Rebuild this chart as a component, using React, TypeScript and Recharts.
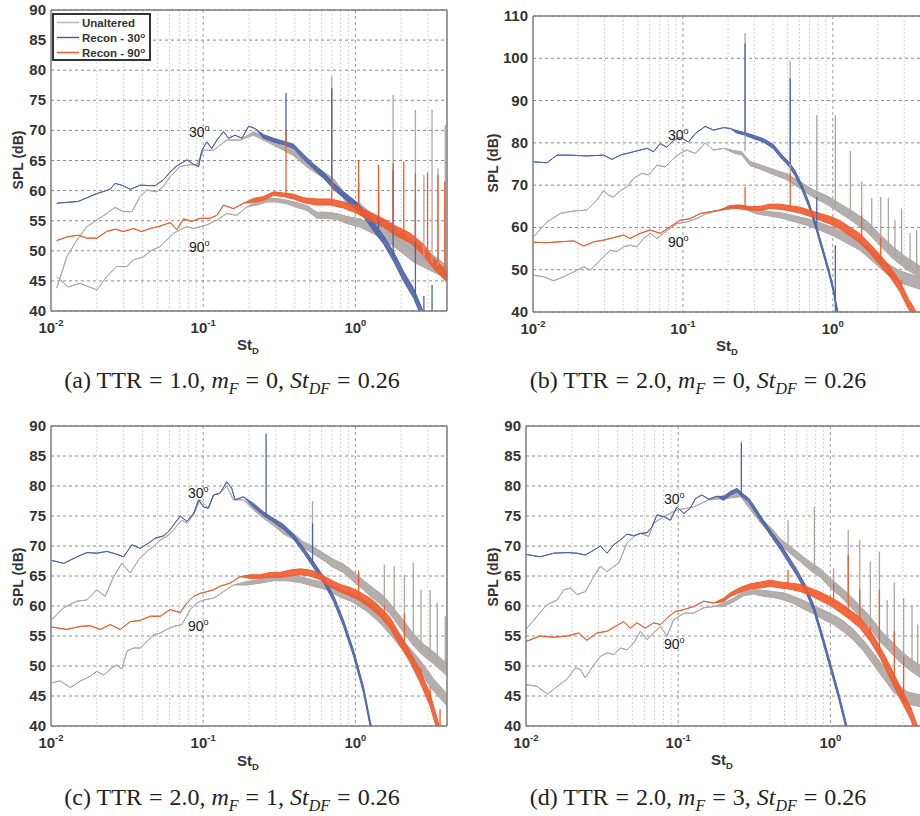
import React from "react";
import {
  ComposedChart,
  Area,
  Line,
  XAxis,
  YAxis,
  CartesianGrid,
  ReferenceLine,
} from "recharts";

// [St_D, SPL dB, half-width of the noisy band]
type Pt = [number, number, number?];
// [St_D, base dB, peak dB]
type Spike = [number, number, number];

const X_TICKS = [0.01, 0.1, 1];
const X_MAJOR = [0.1, 1];
const X_MINOR = [0.02, 0.03, 0.04, 0.05, 0.06, 0.07, 0.08, 0.09, 0.2, 0.3, 0.4, 0.5, 0.6, 0.7, 0.8, 0.9, 2, 3, 4];
const Y_TICKS_90 = [40, 45, 50, 55, 60, 65, 70, 75, 80, 85, 90];
const Y_TICKS_110 = [40, 50, 60, 70, 80, 90, 100, 110];

// ---- (a) TTR = 1.0, mF = 0
const a_unalt30: Pt[] = [[0.0109,43.8],[0.0127,49.0],[0.0148,51.8],[0.0172,54.0],[0.02,55.1],[0.0232,56.2],[0.0264,57.2],[0.0299,56.5],[0.034,56.5],[0.0385,59.0],[0.0426,60.1],[0.0496,59.8],[0.0548,60.7],[0.0607,62.3],[0.0706,64.0],[0.0821,64.3],[0.0908,64.3],[0.1005,66.7],[0.117,66.7],[0.143,68.4],[0.175,68.4],[0.214,69.5,0.3],[0.262,68.4,0.3],[0.321,67.3,0.3],[0.393,66.2,0.4],[0.481,64.3,0.4],[0.589,62.9,0.5],[0.72,61.5,0.5],[0.881,58.4,0.6],[1.079,57.1,0.7],[1.32,55.1,0.7],[1.615,54.0,0.8],[1.977,52.3,0.8],[2.42,50.7,0.9],[2.96,49.0,0.9],[3.44,47.9,0.9],[4.0,46.5,0.9]];
const a_unalt90: Pt[] = [[0.0109,45.7],[0.013,44.0],[0.0155,44.6],[0.02,43.5],[0.0232,45.7],[0.027,47.4],[0.0315,47.4],[0.0348,48.5],[0.0405,49.0],[0.0459,50.1],[0.0521,50.7],[0.0577,51.8],[0.0638,52.9],[0.0706,53.5],[0.0781,54.0],[0.0864,53.7],[0.0955,54.0],[0.1057,54.3],[0.123,55.1],[0.143,56.2],[0.166,55.9],[0.194,57.3],[0.225,57.9,0.3],[0.262,58.4,0.3],[0.305,58.4,0.3],[0.355,58.1,0.3],[0.413,57.6,0.4],[0.481,57.1,0.4],[0.56,55.9,0.5],[0.651,55.9,0.5],[0.757,55.7,0.5],[0.881,55.1,0.6],[1.079,54.6,0.7],[1.32,53.5,0.7],[1.615,52.3,0.8],[1.977,50.7,0.8],[2.42,49.0,0.9],[2.96,47.9,0.9],[3.62,46.8,0.9],[4.0,45.7,0.9]];
const a_recon30: Pt[] = [[0.0109,57.9],[0.0151,58.2],[0.02,59.5],[0.0244,60.2],[0.0264,61.2],[0.0299,60.8],[0.0331,60.2],[0.0385,60.9],[0.0483,60.8],[0.0548,61.8],[0.0607,63.1],[0.0671,64.1],[0.0781,65.1],[0.0864,64.4],[0.0932,64.0],[0.098,66.7],[0.1057,68.1],[0.114,67.0],[0.123,68.4],[0.136,69.8],[0.147,68.7],[0.162,69.2],[0.18,68.7],[0.199,70.7],[0.22,70.3],[0.249,69.0,0.3],[0.29,68.4,0.3],[0.338,67.9,0.3],[0.393,67.3,0.4],[0.457,65.6,0.4],[0.532,64.0,0.4],[0.617,62.6,0.5],[0.719,60.7,0.5],[0.837,59.3,0.5],[0.975,57.9,0.6],[1.135,56.2,0.6],[1.32,54.0,0.7],[1.535,51.8,0.7],[1.787,49.0,0.8],[2.08,45.7,0.8],[2.42,42.9,0.8],[2.68,40.2,0.8],[2.9,38,0.8]];
const a_recon90: Pt[] = [[0.0109,51.7],[0.0127,52.3],[0.0151,52.6],[0.0172,52.1],[0.02,52.1],[0.0232,53.2],[0.0264,53.6],[0.0299,53.2],[0.0348,53.7],[0.0395,53.2],[0.0448,53.7],[0.0521,54.1],[0.0607,54.7],[0.0671,53.5],[0.0742,55.3],[0.0842,54.9],[0.0955,55.4],[0.111,55.4],[0.123,55.9],[0.136,57.6],[0.158,57.0],[0.184,57.9],[0.214,58.4,0.3],[0.249,58.7,0.3],[0.29,59.5,0.3],[0.338,59.3,0.3],[0.393,59.0,0.4],[0.457,58.4,0.4],[0.56,58.1,0.5],[0.685,58.1,0.5],[0.837,57.6,0.5],[1.025,56.8,0.6],[1.255,55.7,0.7],[1.535,54.6,0.7],[1.88,53.2,0.8],[2.3,52.1,0.8],[2.82,50.1,0.9],[3.27,47.9,0.9],[4.0,45.7,0.9]];
const a_spkGray: Spike[] = [[0.7,61.5,79.0],[1.77,53,75.9],[2.48,50,73.4],[2.82,49,62.6],[3.19,48,73.4],[3.49,47.5,63.7],[3.9,46.5,70.9]];
const a_spkBlue: Spike[] = [[0.35,67.5,76.2],[0.7,61,77.0],[1.05,57,61.2],[1.42,53,59.8],[1.77,49,63.4],[2.48,42,58.4],[2.82,38,42.5],[3.19,38,44.3]];
const a_spkRed: Spike[] = [[0.35,59.3,69.8],[0.7,58,61.8],[1.05,56.8,65.1],[1.42,55,64.3],[1.77,53.5,64.5],[2.08,52.5,64.8],[2.48,51.5,62.9],[2.98,49.5,63.0],[3.49,48,62.6],[3.87,46,61.5]];

// ---- (b) TTR = 2.0, mF = 0
const b_unalt30: Pt[] = [[0.0101,57.8],[0.0124,61.3],[0.0152,63.3],[0.0187,63.9],[0.0229,64.1],[0.0267,66.5],[0.0296,68.8],[0.0319,67.6],[0.0345,67.2],[0.0382,68.7],[0.0424,69.6],[0.0469,71.6],[0.0533,72.8],[0.059,72.4],[0.067,74.7],[0.0762,74.3],[0.0866,76.3],[0.096,77.5],[0.106,78.3],[0.121,77.5],[0.141,80.0],[0.16,78.3],[0.187,78.7],[0.218,77.9,0.3],[0.247,77.5,0.4],[0.281,75.1,0.5],[0.328,74.3,0.5],[0.402,73.1,0.6],[0.493,72.0,0.7],[0.605,70.0,0.8],[0.743,68.0,0.9],[0.912,66.5,1.0],[1.12,64.5,1.1],[1.374,62.5,1.2],[1.69,60.2,1.3],[2.07,57.0,1.3],[2.54,53.9,1.4],[3.11,51.5,1.4],[3.82,49.5,1.4]];
const b_unalt90: Pt[] = [[0.0101,48.7],[0.0118,48.3],[0.0137,47.4],[0.016,48.3],[0.0187,49.5],[0.0218,50.7],[0.0241,49.9],[0.0267,51.5],[0.0296,53.1],[0.0328,54.6],[0.0363,54.3],[0.0402,55.4],[0.0445,55.8],[0.0493,55.4],[0.0547,57.4],[0.0606,58.6],[0.067,57.4],[0.0743,58.6],[0.0824,59.8],[0.0912,60.9],[0.106,61.3],[0.124,62.1],[0.144,63.3],[0.169,63.9],[0.196,64.5,0.3],[0.229,64.9,0.4],[0.267,64.5,0.4],[0.311,63.7,0.5],[0.363,63.3,0.5],[0.445,62.9,0.6],[0.547,62.1,0.7],[0.671,61.3,0.8],[0.824,60.2,0.9],[1.01,59.0,1.0],[1.24,57.4,1.1],[1.52,55.8,1.2],[1.87,53.1,1.3],[2.29,50.3,1.3],[2.81,48.3,1.4],[3.82,46.8,1.4]];
const b_recon30: Pt[] = [[0.0101,75.5],[0.0124,75.3],[0.01445,77.1],[0.0177,77.1],[0.0229,76.9],[0.0296,77.1],[0.0336,76.1],[0.0382,77.1],[0.0469,77.9],[0.0575,78.7],[0.0637,77.9],[0.0706,79.8],[0.0782,79.0],[0.0866,80.6],[0.096,81.3],[0.109,80.2],[0.121,82.2],[0.141,83.9],[0.16,83.0],[0.187,83.6],[0.207,83.4],[0.229,82.6,0.3],[0.254,82.2,0.3],[0.296,81.4,0.4],[0.345,80.6,0.4],[0.402,79.1,0.5],[0.457,76.7,0.5],[0.506,75.1,0.5],[0.561,72.8,0.6],[0.621,69.6,0.6],[0.688,65.7,0.6],[0.763,60.9,0.6],[0.845,55.4,0.6],[0.936,49.9,0.6],[1.01,45.2,0.6],[1.074,40,0.6],[1.12,37,0.6]];
const b_recon90: Pt[] = [[0.0101,56.5],[0.0124,56.4],[0.0152,56.6],[0.0187,56.8],[0.0218,55.6],[0.0254,56.6],[0.0296,57.0],[0.0345,57.6],[0.0402,58.2],[0.0445,57.4],[0.052,58.6],[0.0606,59.4],[0.0706,58.6],[0.0824,60.2],[0.096,61.7],[0.112,62.1],[0.131,63.3],[0.152,63.7],[0.177,64.1],[0.207,64.9,0.3],[0.241,64.9,0.4],[0.281,64.5,0.4],[0.328,64.5,0.5],[0.382,65.0,0.5],[0.445,64.9,0.6],[0.52,64.5,0.6],[0.605,64.1,0.7],[0.706,63.3,0.7],[0.824,62.5,0.8],[0.959,61.7,0.9],[1.12,60.6,1.0],[1.31,59.0,1.0],[1.52,57.4,1.1],[1.77,55.0,1.1],[2.07,52.3,1.2],[2.41,49.5,1.2],[2.81,46.0,1.2],[3.19,42.0,1.2],[3.45,40,1.2],[3.7,38,1.2]];
const b_spkGray: Spike[] = [[0.26,78,106],[0.52,72.5,99.3],[0.782,67.5,86.5],[1.04,64.5,86.5],[1.31,62.5,78.1],[1.56,60,70.8],[1.82,58,66.9],[2.09,56.5,67.2],[2.35,54.5,67.0],[2.6,53,61.7],[2.88,51.5,64.5],[3.28,50.5,58.6],[3.63,49.5,59.4]];
const b_spkBlue: Spike[] = [[0.26,82,103.5],[0.52,75,95.2],[0.782,60,67.2],[1.04,40,55.8]];
const b_spkRed: Spike[] = [[0.26,65,69.6],[0.52,64.3,72.8],[1.56,57,62.9],[2.09,52,57.5],[2.88,45.5,47.6]];

// ---- (c) TTR = 2.0, mF = 1
const c_unalt30: Pt[] = [[0.0101,57.7],[0.0121,59.7],[0.0148,60.8],[0.0172,61.0],[0.02,62.7],[0.0227,61.6],[0.0258,64.9],[0.0292,67.1],[0.0332,65.5],[0.0376,67.7],[0.0427,69.1],[0.0472,69.9],[0.0522,71.0],[0.0577,71.6],[0.0639,72.7],[0.0724,74.3],[0.0781,73.8],[0.0865,75.2],[0.0955,77.7],[0.108,76.3],[0.117,78.5],[0.129,78.8],[0.143,80.0],[0.158,77.7],[0.184,77.7],[0.214,76.3,0.3],[0.249,74.9,0.3],[0.29,73.8,0.4],[0.337,72.4,0.4],[0.392,71.6,0.5],[0.456,70.2,0.5],[0.53,69.3,0.6],[0.617,68.2,0.6],[0.718,67.1,0.7],[0.834,66.3,0.7],[0.971,64.9,0.8],[1.13,63.5,0.8],[1.31,62.1,0.9],[1.53,60.8,0.9],[1.78,58.8,0.9],[2.07,56.6,1.0],[2.4,54.4,1.0],[2.79,52.7,1.0],[3.25,51.4,1.0],[3.98,49.4,1.0]];
const c_unalt90: Pt[] = [[0.0101,47.2],[0.0115,47.5],[0.0134,46.4],[0.0156,47.5],[0.0181,48.3],[0.02,49.1],[0.0222,48.5],[0.0251,49.7],[0.0271,50.2],[0.0292,49.5],[0.0316,52.5],[0.0349,53.0],[0.0386,53.0],[0.0427,54.1],[0.0472,55.2],[0.0522,55.5],[0.0577,56.1],[0.0639,56.6],[0.0724,56.9],[0.0822,59.4],[0.0908,60.5],[0.1004,61.0],[0.117,61.3],[0.136,62.4],[0.158,63.5],[0.194,63.8,0.3],[0.237,64.1,0.3],[0.29,64.6,0.4],[0.354,64.6,0.4],[0.434,64.4,0.5],[0.53,63.8,0.5],[0.648,63.3,0.6],[0.793,62.1,0.6],[0.971,61.3,0.7],[1.19,59.9,0.8],[1.45,58.0,0.8],[1.78,55.5,0.9],[2.17,52.7,0.9],[2.66,50.0,1.0],[3.25,46.9,1.0],[3.98,44.4,1.0]];
const c_recon30: Pt[] = [[0.0101,67.6],[0.0121,67.1],[0.0148,68.2],[0.0172,68.9],[0.02,68.8],[0.0233,69.1],[0.0264,68.7],[0.03,68.2],[0.034,70.2],[0.0386,69.6],[0.0438,70.5],[0.0484,71.3],[0.055,71.7],[0.0592,72.4],[0.0639,73.5],[0.0706,75.0],[0.0781,74.1],[0.0865,75.4],[0.0932,77.7],[0.1004,76.5],[0.108,76.3],[0.117,78.5],[0.129,78.8],[0.143,80.7],[0.154,79.6],[0.162,77.7],[0.184,78.2],[0.214,76.8,0.3],[0.249,75.4,0.3],[0.29,74.3,0.3],[0.337,73.2,0.4],[0.392,71.6,0.4],[0.456,69.3,0.4],[0.53,66.9,0.5],[0.617,64.4,0.5],[0.718,61.3,0.5],[0.834,57.2,0.5],[0.971,52.2,0.5],[1.13,46.1,0.5],[1.26,40,0.5],[1.32,38,0.5]];
const c_recon90: Pt[] = [[0.0101,56.5],[0.0127,56.1],[0.0156,56.6],[0.0181,56.7],[0.0211,56.1],[0.0245,56.9],[0.0285,56.1],[0.0332,57.4],[0.0386,57.6],[0.0449,58.3],[0.0522,58.3],[0.0607,59.4],[0.0706,58.9],[0.0781,60.5],[0.0865,61.6],[0.0955,62.1],[0.106,62.4],[0.117,62.7],[0.129,63.3],[0.15,63.8],[0.175,64.9],[0.204,64.9,0.3],[0.237,64.9,0.3],[0.275,65.2,0.4],[0.32,65.2,0.4],[0.372,65.5,0.5],[0.434,65.7,0.5],[0.504,65.5,0.5],[0.586,64.9,0.5],[0.682,63.8,0.6],[0.793,63.0,0.6],[0.923,62.4,0.7],[1.07,61.6,0.7],[1.25,60.5,0.8],[1.45,59.1,0.8],[1.69,57.2,0.9],[1.96,54.4,0.9],[2.28,51.6,0.9],[2.66,48.3,1.0],[3.09,44.4,1.0],[3.42,40.6,1.0],[3.6,38.5,1.0]];
const c_spkGray: Spike[] = [[0.523,69,77.5],[1.05,64,66.0],[1.55,60.5,66.9],[1.8,58.5,66.6],[2.1,56.5,65.2],[2.4,54.5,67.2],[2.7,52.5,62.7],[3.1,51.5,62.7],[3.45,50.5,60.5],[3.9,49.5,58.3]];
const c_spkBlue: Spike[] = [[0.259,75,88.7],[0.523,67,73.8]];
const c_spkRed: Spike[] = [[1.05,61.8,65.7],[1.55,58.5,60.2],[2.1,54,58.8],[2.7,48,49.7],[3.1,44,46.6],[3.6,39,42.8]];

// ---- (d) TTR = 2.0, mF = 3
const d_unalt30: Pt[] = [[0.01,56.1],[0.0118,58.3],[0.0137,60.2],[0.016,61.0],[0.0177,62.7],[0.0196,63.0],[0.0216,61.9],[0.0245,62.4],[0.0279,64.9],[0.0308,66.6],[0.0341,65.7],[0.0377,66.6],[0.0406,67.1],[0.0461,70.5],[0.051,71.6],[0.0564,72.1],[0.064,71.6],[0.069,73.8],[0.0803,74.9],[0.098,76.0],[0.126,76.5],[0.159,77.7],[0.203,78.2,0.3],[0.258,78.5,0.3],[0.297,76.5,0.4],[0.347,74.3,0.4],[0.403,72.7,0.5],[0.469,70.7,0.5],[0.546,69.3,0.6],[0.635,68.0,0.6],[0.739,66.6,0.7],[0.86,65.5,0.7],[1.0,63.8,0.8],[1.164,62.4,0.8],[1.35,60.8,0.9],[1.57,59.1,0.9],[1.83,57.2,1.0],[2.13,55.0,1.0],[2.48,53.3,1.0],[2.88,51.6,1.0],[3.36,50.2,1.0],[3.9,49.1,1.0]];
const d_unalt90: Pt[] = [[0.01,46.9],[0.0118,46.6],[0.0139,45.3],[0.016,46.6],[0.0186,47.8],[0.0211,49.7],[0.0228,49.4],[0.0245,48.0],[0.0279,50.2],[0.0308,51.6],[0.0341,52.2],[0.0377,51.9],[0.0417,53.0],[0.0461,52.7],[0.051,53.8],[0.0564,55.8],[0.0624,54.4],[0.069,55.5],[0.0764,56.6],[0.0845,55.0],[0.0933,57.7],[0.109,58.8],[0.126,58.8],[0.147,59.7],[0.171,59.9],[0.199,60.2,0.3],[0.232,61.0,0.3],[0.269,62.1,0.4],[0.313,62.4,0.4],[0.365,62.1,0.5],[0.424,61.9,0.5],[0.494,61.6,0.6],[0.574,61.0,0.6],[0.668,60.2,0.7],[0.777,59.4,0.7],[0.904,58.5,0.8],[1.05,57.7,0.8],[1.22,56.6,0.9],[1.42,55.2,0.9],[1.66,53.3,0.9],[1.93,51.1,1.0],[2.24,48.9,1.0],[2.61,46.6,1.0],[3.19,44.7,1.0],[3.9,44.2,1.0]];
const d_recon30: Pt[] = [[0.01,68.6],[0.0124,68.2],[0.0152,68.8],[0.0186,68.9],[0.0216,68.8],[0.0245,68.5],[0.0279,69.3],[0.0308,70.0],[0.0341,68.8],[0.0377,70.2],[0.0417,71.0],[0.0461,72.0],[0.051,71.7],[0.0564,72.1],[0.0624,72.2],[0.0673,73.2],[0.0726,75.2],[0.0803,74.9],[0.0889,74.3],[0.098,76.5],[0.109,75.4],[0.12,76.3],[0.13,77.9],[0.143,78.5],[0.159,77.8],[0.18,78.3],[0.199,77.9,0.3],[0.22,78.8,0.3],[0.244,79.3,0.3],[0.263,78.5,0.3],[0.29,77.7,0.3],[0.321,76.0,0.4],[0.365,73.8,0.4],[0.414,71.8,0.4],[0.469,69.9,0.5],[0.532,67.7,0.5],[0.604,65.5,0.5],[0.685,63.0,0.5],[0.777,59.7,0.5],[0.881,55.0,0.5],[1.0,50.0,0.5],[1.135,45.0,0.5],[1.27,40,0.5],[1.33,38,0.5]];
const d_recon90: Pt[] = [[0.01,54.1],[0.0124,55.0],[0.0152,54.8],[0.0186,55.0],[0.0222,55.5],[0.0251,54.3],[0.0293,55.5],[0.0341,55.8],[0.0386,56.6],[0.0438,57.4],[0.0485,56.3],[0.0537,57.2],[0.0608,56.3],[0.069,57.2],[0.0764,56.9],[0.0845,58.0],[0.0958,59.1],[0.109,59.4],[0.126,59.9],[0.147,60.8],[0.171,60.5],[0.199,61.0,0.3],[0.22,61.9,0.3],[0.256,62.7,0.4],[0.298,63.3,0.4],[0.347,63.5,0.5],[0.403,63.8,0.5],[0.469,63.5,0.5],[0.546,63.3,0.5],[0.635,63.0,0.6],[0.739,62.4,0.6],[0.86,61.6,0.7],[1.0,60.8,0.7],[1.164,59.7,0.8],[1.35,58.5,0.8],[1.57,57.2,0.9],[1.83,55.0,0.9],[2.13,52.2,0.9],[2.48,48.9,1.0],[2.88,45.5,1.0],[3.36,42.2,1.0],[3.61,40,1.0],[3.8,38.5,1.0]];
const d_spkGray: Spike[] = [[0.527,70,74.3],[0.785,66,76.5],[1.05,63,66.3],[1.31,61,72.7],[1.56,59,71.0],[1.83,57,67.4],[2.1,55,69.1],[2.36,53.5,61.0],[2.63,52,63.9],[3.03,51,61.3],[3.44,50,60.0],[3.75,49,56.9]];
const d_spkBlue: Spike[] = [[0.26,78.5,87.3]];
const d_spkRed: Spike[] = [[0.527,63.5,66.0],[1.05,60.5,63.8],[1.31,59,68.5],[1.56,57.5,62.7],[1.83,55,56.6],[2.1,52,62.7],[2.63,47,55.8],[3.03,44,51.6]];

const FONT = '"Liberation Sans", Arial, Helvetica, sans-serif';
const SERIF = '"Liberation Serif", "Times New Roman", serif';
const GRAY = "#aca6a4";
const BLUE = "#4c63a8";
const RED = "#f15a2b";
const AXIS = "#7d7d7d";
const TEXT = "#333";

const band = (pts: Pt[]) => pts.map(([x, y, s = 0]) => ({ x, v: [y - s, y + s] }));
const spikes = (sp: Spike[]) =>
  sp.flatMap(([x, b, p]) => [{ x, y: b }, { x, y: p }, { x, y: null as number | null }]);

function XTick({ x, y, payload }: any) {
  const exp = Math.round(Math.log10(payload.value));
  return (
    <text x={x} y={y + 22} textAnchor="middle" fontFamily={FONT} fontWeight="bold" fontSize={15} fill={TEXT}>
      10
      <tspan dy={-7} fontSize={9.5}>
        {exp}
      </tspan>
    </text>
  );
}

function YTick({ x, y, payload }: any) {
  return (
    <text x={x} y={y} dy={5} textAnchor="end" fontFamily={FONT} fontWeight="bold" fontSize={15} fill={TEXT}>
      {payload.value}
    </text>
  );
}

interface PanelProps {
  left: number;
  top: number;
  width: number;
  height: number;
  margin: { top: number; right: number; left: number; bottom: number };
  yWidth: number;
  yMax: number;
  yTicks: number[];
  gray30: Pt[];
  gray90: Pt[];
  blue: Pt[];
  red: Pt[];
  spkGray: Spike[];
  spkBlue: Spike[];
  spkRed: Spike[];
}

function Panel(p: PanelProps) {
  return (
    <div style={{ position: "absolute", left: p.left, top: p.top }}>
      <ComposedChart width={p.width} height={p.height} margin={p.margin}>
        <CartesianGrid vertical={false} stroke="#8a8a8a" strokeDasharray="3 3" />
        <CartesianGrid horizontal={false} verticalValues={X_MINOR} stroke="#d4d4d4" strokeDasharray="2 2" />
        <CartesianGrid horizontal={false} verticalValues={X_MAJOR} stroke="#9a9a9a" strokeDasharray="3 3" />
        <XAxis
          dataKey="x"
          type="number"
          scale="log"
          domain={[0.01, 4]}
          allowDataOverflow
          ticks={X_TICKS}
          interval={0}
          tick={(props: any) => <XTick {...props} />}
          tickLine={false}
          tickSize={0}
          tickMargin={0}
          height={49}
          axisLine={{ stroke: AXIS, strokeWidth: 1.5 }}
        />
        <YAxis
          type="number"
          domain={[40, p.yMax]}
          ticks={p.yTicks}
          interval={0}
          allowDataOverflow
          width={p.yWidth}
          tickLine={false}
          tickSize={0}
          tickMargin={5}
          tick={(props: any) => <YTick {...props} />}
          axisLine={{ stroke: AXIS, strokeWidth: 1.5 }}
        />
        <Area data={band(p.gray30)} dataKey="v" type="linear" stroke={GRAY} fill={GRAY} fillOpacity={0.9} strokeWidth={1} isAnimationActive={false} />
        <Area data={band(p.gray90)} dataKey="v" type="linear" stroke={GRAY} fill={GRAY} fillOpacity={0.9} strokeWidth={1} isAnimationActive={false} />
        <Line data={spikes(p.spkGray)} dataKey="y" type="linear" stroke={GRAY} strokeWidth={1.3} dot={false} isAnimationActive={false} />
        <Area data={band(p.blue)} dataKey="v" type="linear" stroke={BLUE} fill={BLUE} fillOpacity={0.9} strokeWidth={1} isAnimationActive={false} />
        <Line data={spikes(p.spkBlue)} dataKey="y" type="linear" stroke={BLUE} strokeWidth={1.3} dot={false} isAnimationActive={false} />
        <Area data={band(p.red)} dataKey="v" type="linear" stroke={RED} fill={RED} fillOpacity={0.9} strokeWidth={1} isAnimationActive={false} />
        <Line data={spikes(p.spkRed)} dataKey="y" type="linear" stroke={RED} strokeWidth={1.3} dot={false} isAnimationActive={false} />
        <ReferenceLine y={p.yMax} stroke={AXIS} strokeWidth={1.5} />
        <ReferenceLine x={4} stroke={AXIS} strokeWidth={1.5} />
      </ComposedChart>
    </div>
  );
}

const abs = (left: number, top: number): React.CSSProperties => ({ position: "absolute", left, top });

function YLabel({ cx, cy }: { cx: number; cy: number }) {
  return (
    <div
      style={{
        ...abs(cx - 50, cy - 8),
        width: 100,
        height: 16,
        lineHeight: "16px",
        textAlign: "center",
        transform: "rotate(-90deg)",
        fontFamily: FONT,
        fontWeight: 700,
        fontSize: 14,
        color: TEXT,
      }}
    >
      SPL (dB)
    </div>
  );
}

function XLabel({ cx, cy }: { cx: number; cy: number }) {
  return (
    <div
      style={{
        ...abs(cx - 30, cy - 8),
        width: 60,
        lineHeight: "16px",
        textAlign: "center",
        fontFamily: FONT,
        fontWeight: 700,
        fontSize: 15,
        color: TEXT,
      }}
    >
      St<span style={{ fontSize: 9.5, position: "relative", top: 4 }}>D</span>
    </div>
  );
}

function Angle({ x, cy, text }: { x: number; cy: number; text: string }) {
  return (
    <div style={{ ...abs(x, cy - 8), lineHeight: "16px", fontFamily: FONT, fontSize: 14, color: "#222", whiteSpace: "nowrap" }}>
      {text}
      <span style={{ fontSize: 9, position: "relative", top: -6 }}>o</span>
    </div>
  );
}

function Caption({ cx, cy, tag, ttr, m }: { cx: number; cy: number; tag: string; ttr: string; m: string }) {
  const sub: React.CSSProperties = { fontSize: 16, position: "relative", top: 6, fontStyle: "italic" };
  const eq = <span style={{ margin: "0 7px" }}>=</span>;
  return (
    <div
      style={{
        ...abs(cx - 240, cy - 13),
        width: 480,
        lineHeight: "26px",
        textAlign: "center",
        fontFamily: SERIF,
        fontSize: 24,
        color: "#222",
        whiteSpace: "nowrap",
      }}
    >
      ({tag}) TTR{eq}{ttr}, <i>m</i>
      <span style={sub}>F</span>
      {eq}
      {m}, <i>St</i>
      <span style={sub}>DF</span>
      {eq}
      0.26
    </div>
  );
}

function Legend() {
  const row = (color: string, label: React.ReactNode) => (
    <div style={{ display: "flex", alignItems: "center", height: 15 }}>
      <svg width={26} height={15}>
        <line x1={3} y1={7.5} x2={25} y2={7.5} stroke={color} strokeWidth={1.5} />
      </svg>
      <span style={{ marginLeft: 2 }}>{label}</span>
    </div>
  );
  return (
    <div
      style={{
        ...abs(52, 13),
        width: 99,
        height: 48,
        boxSizing: "border-box",
        border: "2px solid #333",
        background: "#fff",
        fontFamily: FONT,
        fontWeight: 700,
        fontSize: 11.5,
        color: TEXT,
      }}
    >
      {row("#bfb8b5", "Unaltered")}
      {row(BLUE, <>Recon - 30<span style={{ fontSize: 8, position: "relative", top: -4 }}>o</span></>)}
      {row(RED, <>Recon - 90<span style={{ fontSize: 8, position: "relative", top: -4 }}>o</span></>)}
    </div>
  );
}

export default function App() {
  return (
    <div style={{ position: "absolute", left: 0, top: 0, width: 920, height: 816, overflow: "hidden", background: "#fff" }}>
      <Panel
        left={0} top={0} width={460} height={360}
        margin={{ top: 10, right: 13, left: 0, bottom: 0 }} yWidth={51}
        yMax={90} yTicks={Y_TICKS_90}
        gray30={a_unalt30} gray90={a_unalt90} blue={a_recon30} red={a_recon90}
        spkGray={a_spkGray} spkBlue={a_spkBlue} spkRed={a_spkRed}
      />
      <Panel
        left={460} top={0} width={470} height={361}
        margin={{ top: 16, right: 7, left: 0, bottom: 0 }} yWidth={73}
        yMax={110} yTicks={Y_TICKS_110}
        gray30={b_unalt30} gray90={b_unalt90} blue={b_recon30} red={b_recon90}
        spkGray={b_spkGray} spkBlue={b_spkBlue} spkRed={b_spkRed}
      />
      <Panel
        left={0} top={416} width={460} height={359}
        margin={{ top: 10, right: 13, left: 0, bottom: 0 }} yWidth={51}
        yMax={90} yTicks={Y_TICKS_90}
        gray30={c_unalt30} gray90={c_unalt90} blue={c_recon30} red={c_recon90}
        spkGray={c_spkGray} spkBlue={c_spkBlue} spkRed={c_spkRed}
      />
      <Panel
        left={460} top={416} width={470} height={359}
        margin={{ top: 10, right: 8, left: 0, bottom: 0 }} yWidth={66}
        yMax={90} yTicks={Y_TICKS_90}
        gray30={d_unalt30} gray90={d_unalt90} blue={d_recon30} red={d_recon90}
        spkGray={d_spkGray} spkBlue={d_spkBlue} spkRed={d_spkRed}
      />

      <Legend />

      <YLabel cx={17.5} cy={160} />
      <YLabel cx={492.5} cy={163} />
      <YLabel cx={17.5} cy={577} />
      <YLabel cx={492.5} cy={577} />

      <XLabel cx={248} cy={345} />
      <XLabel cx={727} cy={346} />
      <XLabel cx={248} cy={761} />
      <XLabel cx={722} cy={760} />

      <Angle x={189} cy={132} text="30" />
      <Angle x={189} cy={247} text="90" />
      <Angle x={668} cy={135} text="30" />
      <Angle x={668} cy={242} text="90" />
      <Angle x={188} cy={493} text="30" />
      <Angle x={188} cy={626} text="90" />
      <Angle x={664} cy={499} text="30" />
      <Angle x={664} cy={644} text="90" />

      <Caption cx={232} cy={380} tag="a" ttr="1.0" m="0" />
      <Caption cx={698} cy={380} tag="b" ttr="2.0" m="0" />
      <Caption cx={232} cy={797} tag="c" ttr="2.0" m="1" />
      <Caption cx={698} cy={797} tag="d" ttr="2.0" m="3" />
    </div>
  );
}
